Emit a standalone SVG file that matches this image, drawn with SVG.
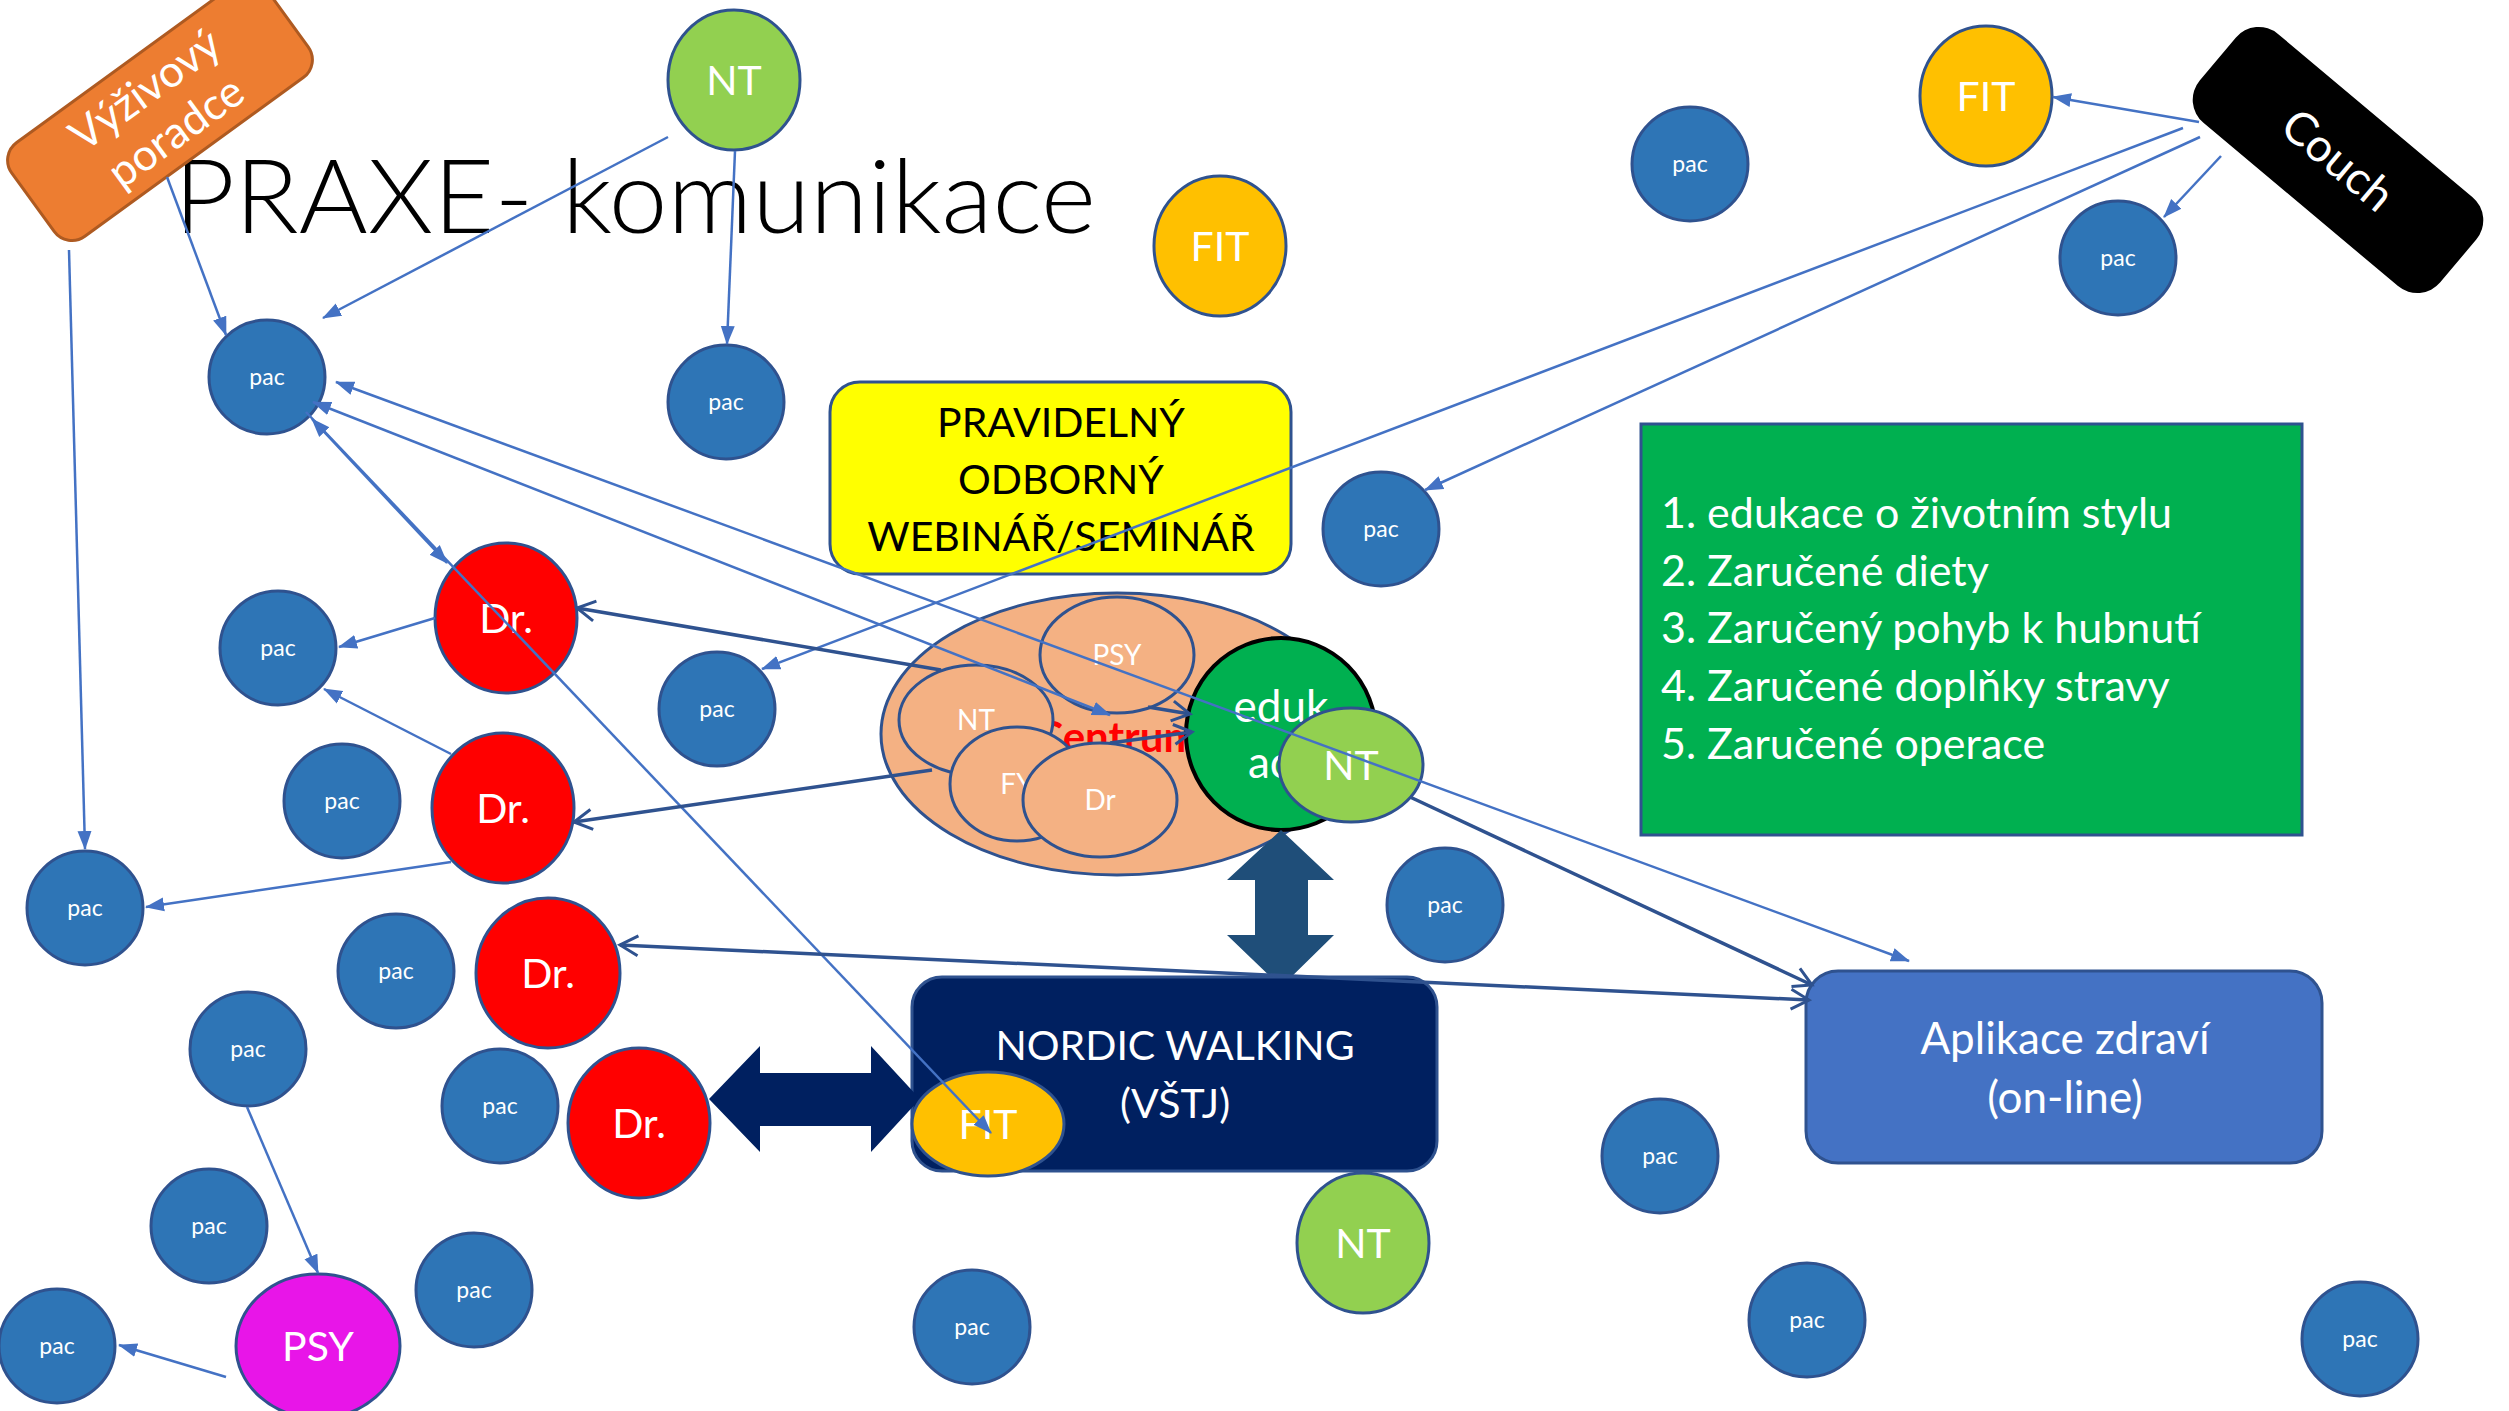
<svg xmlns="http://www.w3.org/2000/svg" width="2509" height="1411" viewBox="0 0 2509 1411">
<defs>
<style>
text{font-family:Lato,"Open Sans","Liberation Sans",sans-serif}
.w{fill:#fff}
.c{text-anchor:middle}
.pac ellipse{fill:#2E75B6;stroke:#2F528F;stroke-width:3}
.pac text{fill:#fff;font-size:23px;text-anchor:middle}
.dr ellipse{fill:#FF0000;stroke:#2F528F;stroke-width:3}
.nt ellipse{fill:#92D050;stroke:#2F528F;stroke-width:3}
.fit ellipse{fill:#FFC000;stroke:#2F528F;stroke-width:3}
.lbl{fill:#fff;font-size:41px;text-anchor:middle}
.inner{fill:#F4B183;stroke:#2F528F;stroke-width:3}
.inner-t{fill:#fff;font-size:28px;text-anchor:middle}
.box-t{font-size:41px}
.list-t{font-size:43px}
.app-t{font-size:44px}
.ln{fill:none;stroke:#4472C4;stroke-width:2.5}
.dk{fill:none;stroke:#2F528F;stroke-width:3.5}
</style>
<marker id="af" markerUnits="userSpaceOnUse" markerWidth="20" markerHeight="16" refX="18" refY="8" orient="auto-start-reverse" viewBox="0 0 20 16"><path d="M0,1 L19,8 L0,15 z" fill="#4472C4"/></marker>
<marker id="ao" markerUnits="userSpaceOnUse" markerWidth="26" markerHeight="26" refX="21" refY="13" orient="auto-start-reverse" viewBox="0 0 26 26"><path d="M3,3 L21,13 L3,23" fill="none" stroke="#2F528F" stroke-width="3"/></marker>
</defs>
<rect width="2509" height="1411" fill="#fff"/>

<text id="title" x="174" y="233" font-size="103" font-weight="300" textLength="922" lengthAdjust="spacingAndGlyphs">PRAXE- komunikace</text>

<g id="vyzivovy" transform="translate(160,110) rotate(-36)">
<rect x="-157" y="-58" width="314" height="116" rx="22" fill="#ED7D31" stroke="#AE5A21" stroke-width="3"/>
<text class="w c" x="0" y="-10" font-size="44">Výživový</text>
<text class="w c" x="0" y="42" font-size="44">poradce</text>
</g>

<g id="couch" transform="translate(2338,160) rotate(40)">
<rect x="-157" y="-58" width="314" height="116" rx="30" fill="#000"/>
<text class="w c" x="0" y="16" font-size="46">Couch</text>
</g>

<g id="webinar">
<rect x="830" y="382" width="461" height="192" rx="30" fill="#FFFF00" stroke="#2F528F" stroke-width="3"/>
<text class="c box-t" x="1061" y="437">PRAVIDELNÝ</text>
<text class="c box-t" x="1061" y="494">ODBORNÝ</text>
<text class="c box-t" x="1061" y="551">WEBINÁŘ/SEMINÁŘ</text>
</g>

<g id="list">
<rect x="1641" y="424" width="661" height="411" fill="#00B050" stroke="#2F528F" stroke-width="3"/>
<text class="w list-t" x="1661" y="528">1. edukace o životním stylu</text>
<text class="w list-t" x="1661" y="586">2. Zaručené diety</text>
<text class="w list-t" x="1661" y="643">3. Zaručený pohyb k hubnutí</text>
<text class="w list-t" x="1661" y="701">4. Zaručené doplňky stravy</text>
<text class="w list-t" x="1661" y="759">5. Zaručené operace</text>
</g>

<g id="aplikace">
<rect x="1806" y="971" width="516" height="192" rx="32" fill="#4472C4" stroke="#2F528F" stroke-width="3"/>
<text class="w c app-t" x="2065" y="1054">Aplikace zdraví</text>
<text class="w c app-t" x="2065" y="1113">(on-line)</text>
</g>

<g id="centrum">
<ellipse cx="1117" cy="734" rx="236" ry="141" class="inner"/>
<text x="1117" y="752" text-anchor="middle" font-size="42" font-weight="bold" fill="#FF0000">Centrum</text>
<ellipse cx="1117" cy="655" rx="77" ry="58" class="inner"/>
<text class="inner-t" x="1117" y="665">PSY</text>
<ellipse cx="976" cy="720" rx="77" ry="55" class="inner"/>
<text class="inner-t" x="976" y="730">NT</text>
<ellipse cx="1017" cy="784" rx="67" ry="57" class="inner"/>
<text class="inner-t" x="1017" y="794">FY</text>
<ellipse cx="1100" cy="800" rx="77" ry="57" class="inner"/>
<text class="inner-t" x="1100" y="810">Dr</text>
</g>

<g id="edukace">
<ellipse cx="1281" cy="734" rx="95" ry="96" fill="#00B050" stroke="#000" stroke-width="4"/>
<text class="w c" x="1281" y="722" font-size="44">eduk</text>
<text class="w" x="1248" y="778" font-size="44">ac</text>
</g>

<g id="nt-centrum" class="nt"><ellipse cx="1351" cy="765" rx="72" ry="57"/><text class="lbl" x="1351" y="780">NT</text></g>

<g id="arrow-v"><polygon points="1281,830 1334,880 1308,880 1308,935 1334,935 1281,987 1227,935 1255,935 1255,880 1227,880" fill="#1F4E79"/></g>

<g id="nordic">
<rect x="912" y="977" width="525" height="194" rx="30" fill="#002060" stroke="#2F528F" stroke-width="3"/>
<text class="w c box-t" x="1175" y="1060">NORDIC WALKING</text>
<text class="w c box-t" x="1175" y="1118">(VŠTJ)</text>
</g>

<g id="arrow-h"><polygon points="709,1099 760,1046 760,1073 871,1073 871,1046 920,1099 871,1152 871,1126 760,1126 760,1152" fill="#002060"/></g>

<g id="fit-nordic" class="fit"><ellipse cx="988" cy="1124" rx="76" ry="52"/><text class="lbl" x="988" y="1139">FIT</text></g>

<g id="nt-top" class="nt"><ellipse cx="734" cy="80" rx="66" ry="70"/><text class="lbl" x="734" y="95">NT</text></g>
<g id="nt-bottom" class="nt"><ellipse cx="1363" cy="1243" rx="66" ry="70"/><text class="lbl" x="1363" y="1258">NT</text></g>
<g id="fit-1" class="fit"><ellipse cx="1220" cy="246" rx="66" ry="70"/><text class="lbl" x="1220" y="261">FIT</text></g>
<g id="fit-2" class="fit"><ellipse cx="1986" cy="96" rx="66" ry="70"/><text class="lbl" x="1986" y="111">FIT</text></g>

<g id="dr-1" class="dr"><ellipse cx="506" cy="618" rx="71" ry="75"/><text class="lbl" x="506" y="633">Dr.</text></g>
<g id="dr-2" class="dr"><ellipse cx="503" cy="808" rx="71" ry="75"/><text class="lbl" x="503" y="823">Dr.</text></g>
<g id="dr-3" class="dr"><ellipse cx="548" cy="973" rx="72" ry="75"/><text class="lbl" x="548" y="988">Dr.</text></g>
<g id="dr-4" class="dr"><ellipse cx="639" cy="1123" rx="71" ry="75"/><text class="lbl" x="639" y="1138">Dr.</text></g>

<g id="psy"><ellipse cx="318" cy="1346" rx="82" ry="72" fill="#E815E8" stroke="#2F528F" stroke-width="3"/><text class="lbl" x="318" y="1361">PSY</text></g>

<g id="pac-1" class="pac"><ellipse cx="267" cy="377" rx="58" ry="57"/><text x="267" y="385">pac</text></g>
<g id="pac-2" class="pac"><ellipse cx="726" cy="402" rx="58" ry="57"/><text x="726" y="410">pac</text></g>
<g id="pac-3" class="pac"><ellipse cx="1690" cy="164" rx="58" ry="57"/><text x="1690" y="172">pac</text></g>
<g id="pac-4" class="pac"><ellipse cx="2118" cy="258" rx="58" ry="57"/><text x="2118" y="266">pac</text></g>
<g id="pac-5" class="pac"><ellipse cx="1381" cy="529" rx="58" ry="57"/><text x="1381" y="537">pac</text></g>
<g id="pac-6" class="pac"><ellipse cx="278" cy="648" rx="58" ry="57"/><text x="278" y="656">pac</text></g>
<g id="pac-7" class="pac"><ellipse cx="717" cy="709" rx="58" ry="57"/><text x="717" y="717">pac</text></g>
<g id="pac-8" class="pac"><ellipse cx="342" cy="801" rx="58" ry="57"/><text x="342" y="809">pac</text></g>
<g id="pac-9" class="pac"><ellipse cx="85" cy="908" rx="58" ry="57"/><text x="85" y="916">pac</text></g>
<g id="pac-10" class="pac"><ellipse cx="1445" cy="905" rx="58" ry="57"/><text x="1445" y="913">pac</text></g>
<g id="pac-11" class="pac"><ellipse cx="396" cy="971" rx="58" ry="57"/><text x="396" y="979">pac</text></g>
<g id="pac-12" class="pac"><ellipse cx="248" cy="1049" rx="58" ry="57"/><text x="248" y="1057">pac</text></g>
<g id="pac-13" class="pac"><ellipse cx="500" cy="1106" rx="58" ry="57"/><text x="500" y="1114">pac</text></g>
<g id="pac-14" class="pac"><ellipse cx="209" cy="1226" rx="58" ry="57"/><text x="209" y="1234">pac</text></g>
<g id="pac-15" class="pac"><ellipse cx="474" cy="1290" rx="58" ry="57"/><text x="474" y="1298">pac</text></g>
<g id="pac-16" class="pac"><ellipse cx="57" cy="1346" rx="58" ry="57"/><text x="57" y="1354">pac</text></g>
<g id="pac-17" class="pac"><ellipse cx="972" cy="1327" rx="58" ry="57"/><text x="972" y="1335">pac</text></g>
<g id="pac-18" class="pac"><ellipse cx="1660" cy="1156" rx="58" ry="57"/><text x="1660" y="1164">pac</text></g>
<g id="pac-19" class="pac"><ellipse cx="1807" cy="1320" rx="58" ry="57"/><text x="1807" y="1328">pac</text></g>
<g id="pac-20" class="pac"><ellipse cx="2360" cy="1339" rx="58" ry="57"/><text x="2360" y="1347">pac</text></g>

<g id="connectors">
<line class="ln" x1="167" y1="177" x2="226" y2="335" marker-end="url(#af)"/>
<line class="ln" x1="668" y1="137" x2="323" y2="318" stroke-width="3" marker-end="url(#af)"/>
<line class="ln" x1="735" y1="151" x2="727" y2="344" marker-end="url(#af)"/>
<line class="ln" x1="69" y1="250" x2="85" y2="849" marker-end="url(#af)"/>
<line class="ln" x1="336" y1="382" x2="1909" y2="961" stroke-width="3" marker-start="url(#af)" marker-end="url(#af)"/>
<line class="ln" x1="313" y1="402" x2="1110" y2="715" stroke-width="3" marker-start="url(#af)" marker-end="url(#af)"/>
<line class="ln" x1="312" y1="419" x2="447" y2="563" stroke-width="4" marker-start="url(#af)" marker-end="url(#af)"/>
<line class="ln" x1="306" y1="412" x2="991" y2="1133" stroke-width="2" marker-end="url(#af)"/>
<line class="ln" x1="435" y1="618" x2="339" y2="647" marker-end="url(#af)"/>
<line class="ln" x1="451" y1="754" x2="324" y2="689" marker-end="url(#af)"/>
<line class="ln" x1="451" y1="862" x2="146" y2="907" stroke-width="3" marker-end="url(#af)"/>
<line class="ln" x1="2199" y1="122" x2="2053" y2="97" stroke-width="3" marker-end="url(#af)"/>
<line class="ln" x1="2221" y1="156" x2="2164" y2="217" marker-end="url(#af)"/>
<line class="ln" x1="2200" y1="137" x2="1425" y2="490" marker-end="url(#af)"/>
<line class="ln" x1="2183" y1="128" x2="762" y2="669" marker-end="url(#af)"/>
<line class="ln" x1="226" y1="1377" x2="119" y2="1345" stroke-width="3" marker-end="url(#af)"/>
<line class="ln" x1="247" y1="1107" x2="318" y2="1273" marker-end="url(#af)"/>
<line class="dk" x1="941" y1="670" x2="577" y2="608" marker-end="url(#ao)"/>
<line class="dk" x1="932" y1="770" x2="574" y2="822" marker-end="url(#ao)"/>
<line class="dk" x1="620" y1="945" x2="1809" y2="1000" marker-start="url(#ao)" marker-end="url(#ao)"/>
<line class="dk" x1="1410" y1="797" x2="1812" y2="985" stroke="#203864" stroke-width="3" marker-end="url(#ao)"/>
<line class="dk" x1="1148" y1="707" x2="1190" y2="714" marker-end="url(#ao)"/>
<line class="dk" x1="1110" y1="743" x2="1192" y2="732" marker-end="url(#ao)"/>
</g>
</svg>
